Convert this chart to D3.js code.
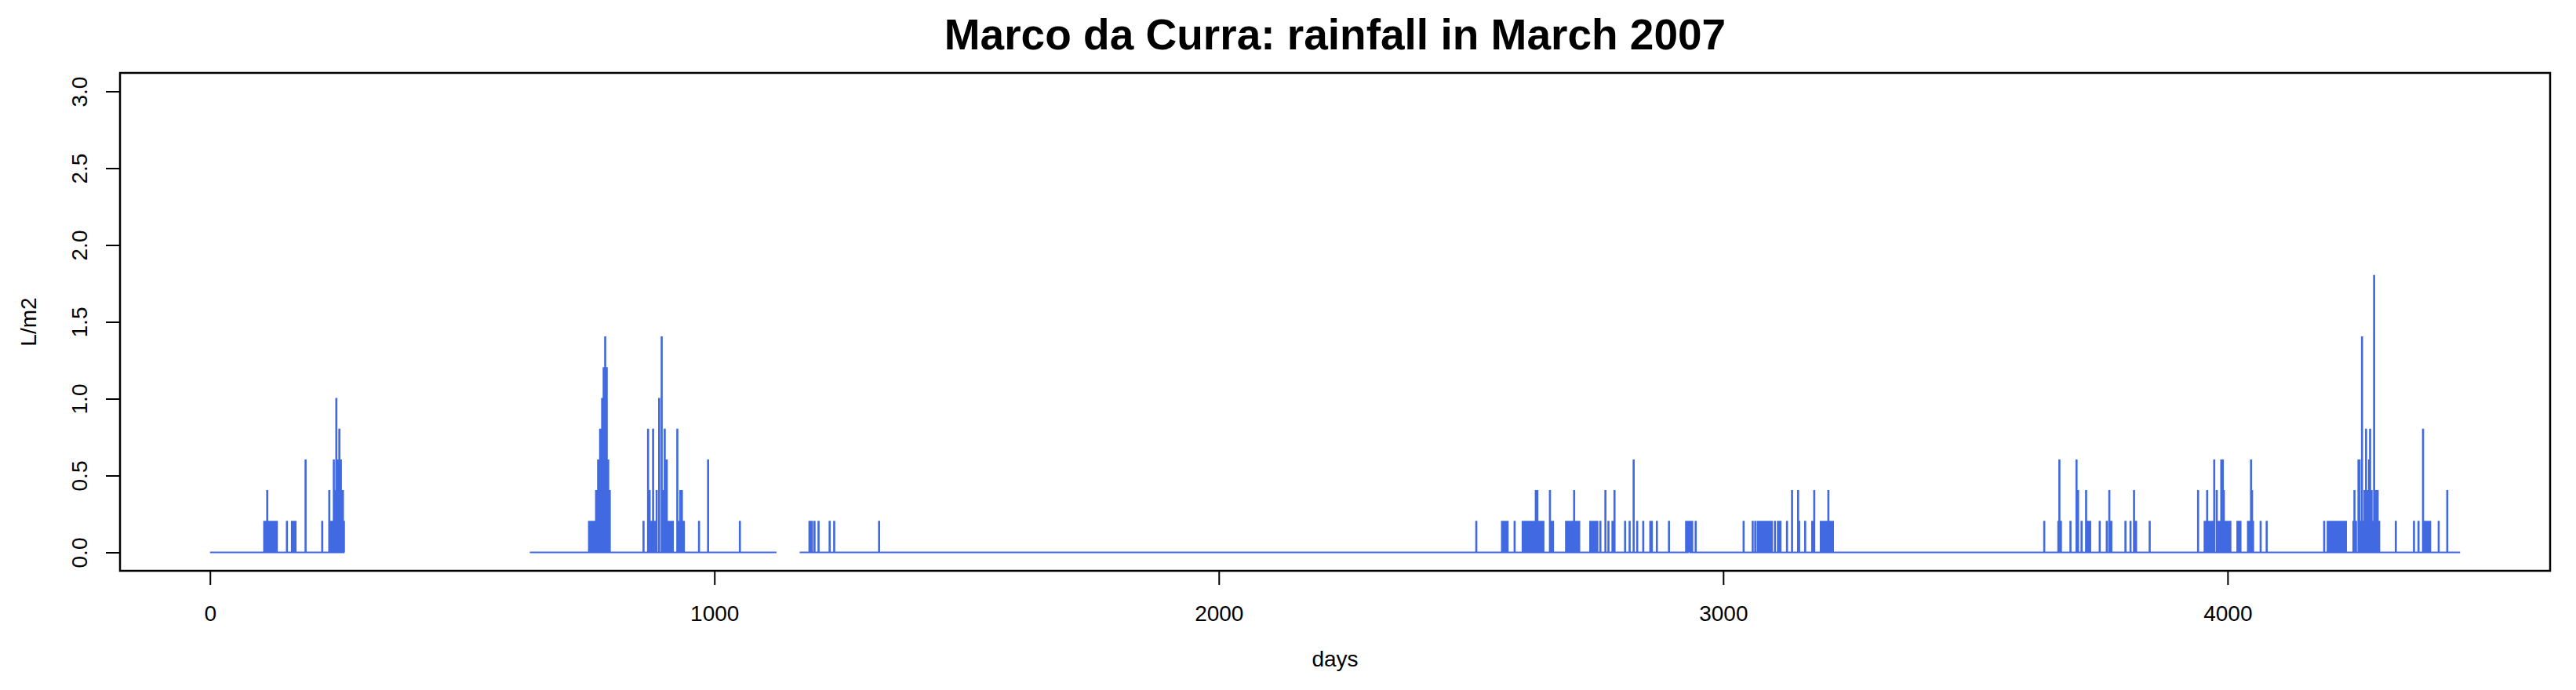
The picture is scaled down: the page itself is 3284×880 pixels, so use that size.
<!DOCTYPE html>
<html lang="en">
<head>
  <meta charset="UTF-8" />
  <title>Marco da Curra rainfall</title>
  <script src="https://d3js.org/d3.v7.min.js"></script>
  <style>
    body { margin: 0; background: #fff; }
    text { font-family: "Liberation Sans", Arial, sans-serif; }
  </style>
</head>
<body>
<script>
  // recorded stretches (10-minute steps), gaps in between are missing data
  var segments = [[0, 266], [634, 1123], [1169, 2931], [2933, 4461]];

  // steps with rain: index and L/m2
  var rainIdx = [107, 109, 111, 113, 115, 117, 119, 121, 124, 126, 129, 132,
    152, 162, 165, 169, 189, 222, 236, 238, 240, 242, 245, 248, 250, 253, 256, 259, 263, 265,
    751, 753, 755, 757, 759, 761, 763, 765, 769, 773, 777, 780, 783, 786, 789, 792,
    859, 868, 871, 874, 878, 881, 885, 890, 895, 898, 901, 905, 909, 913, 917, 926, 929, 932, 935, 939, 969, 987, 1050,
    1188, 1190, 1193, 1198, 1206, 1228, 1237, 1326,
    2510, 2561, 2564, 2567, 2570, 2572, 2586, 2602, 2605, 2608, 2611, 2614, 2617, 2621,
    2625, 2628, 2631, 2634, 2637, 2640, 2643, 2656, 2659, 2662,
    2688, 2691, 2694, 2697, 2700, 2704, 2707, 2710, 2714, 2736, 2739, 2742, 2745, 2748, 2750,
    2756, 2766, 2772, 2780, 2784, 2805, 2814, 2822, 2829, 2841, 2855, 2858, 2868, 2892,
    2926, 2928, 2930, 2934, 2936, 2938, 2945,
    3040, 3058, 3063, 3068, 3071, 3074, 3077, 3080, 3083, 3086, 3089, 3092, 3096,
    3102, 3108, 3111, 3113, 3126, 3136, 3148, 3150, 3162, 3176, 3180,
    3193, 3196, 3199, 3202, 3205, 3208, 3211, 3214, 3217,
    3636, 3664, 3666, 3669, 3688, 3700, 3703, 3710, 3719, 3721, 3723, 3725, 3727,
    3746, 3760, 3765, 3769, 3797, 3807, 3814, 3818, 3845,
    3941, 3954, 3956, 3959, 3962, 3965, 3968, 3970, 3973, 3978,
    3981, 3983, 3985, 3987, 3990, 3992, 3995, 3998, 4001, 4005, 4019, 4022, 4025,
    4040, 4043, 4046, 4048, 4050, 4065, 4077,
    4191, 4198, 4201, 4204, 4207, 4210, 4213, 4216, 4219, 4222, 4225, 4228, 4231, 4234,
    4249, 4251, 4254, 4259, 4261, 4263, 4266, 4269, 4271, 4274, 4277, 4279, 4280, 4282, 4285,
    4287, 4290, 4293, 4295, 4297, 4300,
    4333, 4369, 4378, 4387, 4390, 4393, 4395, 4397, 4401, 4418, 4435];
  var rainVal = [0.2, 0.2, 0.2, 0.4, 0.2, 0.2, 0.2, 0.2, 0.2, 0.2, 0.2, 0.2,
    0.2, 0.2, 0.2, 0.2, 0.6, 0.2, 0.4, 0.2, 0.2, 0.2, 0.6, 0.4, 1.0, 0.6, 0.8, 0.6, 0.4, 0.2,
    0.2, 0.2, 0.2, 0.2, 0.2, 0.2, 0.2, 0.4, 0.6, 0.8, 1.0, 1.2, 1.4, 1.2, 0.6, 0.4,
    0.2, 0.8, 0.4, 0.2, 0.8, 0.2, 0.4, 1.0, 1.4, 0.4, 0.8, 0.6, 0.2, 0.2, 0.2, 0.8, 0.2, 0.4, 0.4, 0.2, 0.2, 0.6, 0.2,
    0.2, 0.2, 0.2, 0.2, 0.2, 0.2, 0.2, 0.2,
    0.2, 0.2, 0.2, 0.2, 0.2, 0.2, 0.2, 0.2, 0.2, 0.2, 0.2, 0.2, 0.2, 0.2,
    0.2, 0.4, 0.4, 0.2, 0.2, 0.2, 0.2, 0.4, 0.2, 0.2,
    0.2, 0.2, 0.2, 0.2, 0.2, 0.4, 0.2, 0.2, 0.2, 0.2, 0.2, 0.2, 0.2, 0.2, 0.2,
    0.2, 0.4, 0.2, 0.2, 0.4, 0.2, 0.2, 0.6, 0.2, 0.2, 0.2, 0.2, 0.2, 0.2,
    0.2, 0.2, 0.2, 0.2, 0.2, 0.2, 0.2,
    0.2, 0.2, 0.2, 0.2, 0.2, 0.2, 0.2, 0.2, 0.2, 0.2, 0.2, 0.2, 0.2,
    0.2, 0.2, 0.2, 0.2, 0.2, 0.4, 0.4, 0.2, 0.2, 0.2, 0.4,
    0.2, 0.2, 0.2, 0.2, 0.2, 0.4, 0.2, 0.2, 0.2,
    0.2, 0.2, 0.6, 0.2, 0.2, 0.6, 0.4, 0.2, 0.4, 0.2, 0.2, 0.2, 0.2,
    0.2, 0.2, 0.4, 0.2, 0.2, 0.2, 0.4, 0.2, 0.2,
    0.4, 0.2, 0.2, 0.4, 0.2, 0.2, 0.2, 0.2, 0.6, 0.4,
    0.2, 0.2, 0.2, 0.6, 0.6, 0.4, 0.2, 0.2, 0.2, 0.2, 0.2, 0.2, 0.2,
    0.2, 0.2, 0.6, 0.4, 0.2, 0.2, 0.2,
    0.2, 0.2, 0.2, 0.2, 0.2, 0.2, 0.2, 0.2, 0.2, 0.2, 0.2, 0.2, 0.2, 0.2,
    0.2, 0.4, 0.2, 0.6, 0.6, 0.2, 1.4, 0.2, 0.4, 0.8, 0.4, 0.4, 0.6, 0.8, 0.4,
    0.2, 1.8, 0.4, 0.4, 0.4, 0.2,
    0.2, 0.2, 0.2, 0.8, 0.2, 0.2, 0.2, 0.2, 0.2, 0.2, 0.4];

  var xTicks = [0, 1000, 2000, 3000, 4000];
  var yTicks = [0.0, 0.5, 1.0, 1.5, 2.0, 2.5, 3.0];

  var W = 3284, H = 880;
  var mLeft = 153, mRight = 3251, mTop = 93, mBottom = 728;

  // build the step series, null between segments
  var rain = {};
  rainIdx.forEach(function(d, i) { rain[d] = rainVal[i]; });
  var series = [];
  segments.forEach(function(s, k) {
    if (k > 0) series.push(null);
    for (var t = s[0]; t <= s[1]; t++) {
      series.push({ t: t, v: rain[t] || 0 });
    }
  });

  var x = d3.scaleLinear().domain([-178.4, 4639.4]).range([mLeft, mRight]);
  var y = d3.scaleLinear().domain([-0.12, 3.12]).range([mBottom, mTop]);

  var svg = d3.select("body").append("svg")
    .attr("width", W)
    .attr("height", H);

  var line = d3.line()
    .defined(function(d) { return d !== null; })
    .x(function(d) { return x(d.t); })
    .y(function(d) { return y(d.v); })
    .curve(d3.curveStepAfter);

  svg.append("path")
    .datum(series)
    .attr("d", line)
    .attr("fill", "none")
    .attr("stroke", "#4169E1")
    .attr("stroke-width", 2);

  svg.append("rect")
    .attr("x", mLeft).attr("y", mTop)
    .attr("width", mRight - mLeft).attr("height", mBottom - mTop)
    .attr("fill", "none").attr("stroke", "#000").attr("stroke-width", 2.5);

  var xAxis = svg.append("g")
    .attr("transform", "translate(0," + mBottom + ")")
    .call(d3.axisBottom(x).tickValues(xTicks).tickSize(18).tickPadding(26).tickFormat(d3.format("d")));
  xAxis.select(".domain").attr("d", "M" + x(0) + ",0H" + x(4000)).attr("stroke-width", 2);
  xAxis.selectAll("line").attr("stroke-width", 2);
  xAxis.selectAll("text").attr("font-size", 28).attr("font-family", "Liberation Sans");

  var yAxis = svg.append("g")
    .attr("transform", "translate(" + mLeft + ",0)")
    .call(d3.axisLeft(y).tickValues(yTicks).tickSize(18).tickFormat(d3.format(".1f")));
  yAxis.select(".domain").attr("d", "M0," + y(0) + "V" + y(3)).attr("stroke-width", 2);
  yAxis.selectAll("line").attr("stroke-width", 2);
  yAxis.selectAll("text")
    .attr("font-size", 28).attr("font-family", "Liberation Sans")
    .attr("x", null).attr("dy", null)
    .attr("text-anchor", "middle")
    .attr("transform", "translate(-42,0) rotate(-90)");

  svg.append("text")
    .attr("x", (mLeft + mRight) / 2).attr("y", 63)
    .attr("text-anchor", "middle")
    .attr("font-size", 55).attr("font-weight", "bold")
    .text("Marco da Curra: rainfall in March 2007");

  svg.append("text")
    .attr("x", (mLeft + mRight) / 2).attr("y", 850)
    .attr("text-anchor", "middle")
    .attr("font-size", 28)
    .text("days");

  svg.append("text")
    .attr("transform", "translate(46," + (mTop + mBottom) / 2 + ") rotate(-90)")
    .attr("text-anchor", "middle")
    .attr("font-size", 28)
    .text("L/m2");
</script>
</body>
</html>
